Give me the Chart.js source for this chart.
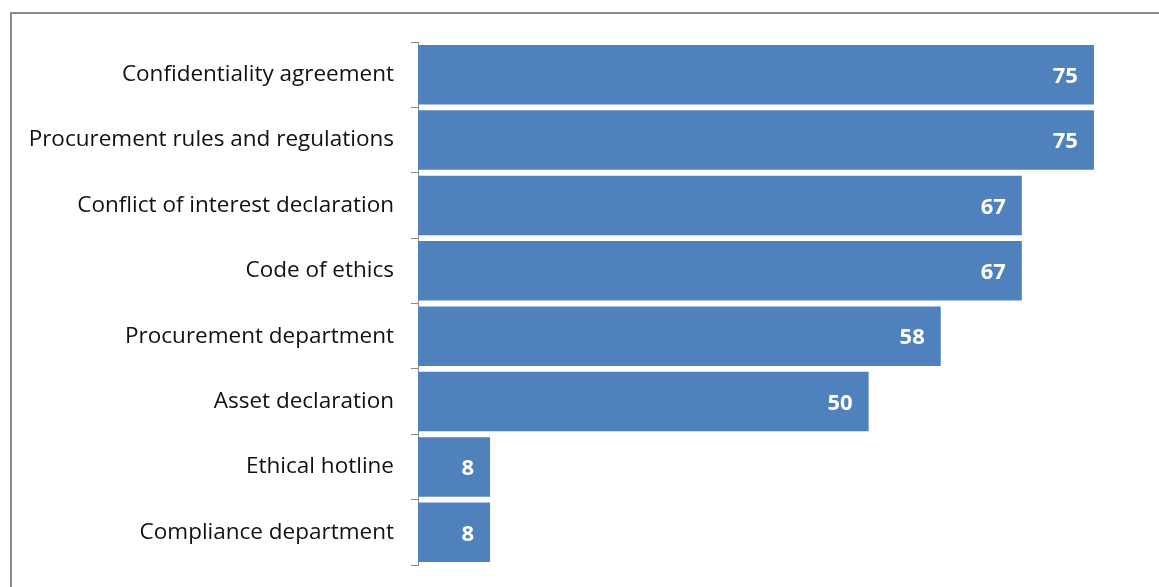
<!DOCTYPE html>
<html>
<head>
<meta charset="utf-8">
<script src="https://cdn.jsdelivr.net/npm/chart.js@4/dist/chart.umd.min.js"></script>
<style>
    html, body { margin: 0; padding: 0; background: #fff; overflow: hidden; }
    #frame {
        position: absolute; left: 10px; top: 12px; width: 1200px; height: 640px;
        border-left: 2px solid #8a8a8a; border-top: 2px solid #8a8a8a;
    }
    #wrap { position: absolute; left: 0; top: 0; width: 1159px; height: 587px; }
</style>
</head>
<body>
<div id="frame"></div>
<div id="wrap"><canvas id="barChart" width="1159" height="587"></canvas></div>
<script>
const categories = [
    'Confidentiality agreement',
    'Procurement rules and regulations',
    'Conflict of interest declaration',
    'Code of ethics',
    'Procurement department',
    'Asset declaration',
    'Ethical hotline',
    'Compliance department'
];
const values = [75, 75, 67, 67, 58, 50, 8, 8];
const axisMax = 80;

const FONT = '"Open Sans", Lato, sans-serif';

// prints each value inside the right end of its bar
const valueLabels = {
    id: 'valueLabels',
    afterDatasetsDraw(chart) {
        const ctx = chart.ctx;
        const meta = chart.getDatasetMeta(0);
        ctx.save();
        ctx.fillStyle = '#ffffff';
        ctx.font = 'bold 22px ' + FONT;
        ctx.textAlign = 'right';
        ctx.textBaseline = 'middle';
        meta.data.forEach((bar, i) => {
            ctx.fillText(String(values[i]), bar.x - 16, bar.y + 2);
        });
        ctx.restore();
    }
};

const ctx = document.getElementById('barChart').getContext('2d');
new Chart(ctx, {
    type: 'bar',
    data: {
        labels: categories,
        datasets: [{
            data: values,
            backgroundColor: '#4f81bd',
            borderWidth: 0,
            barPercentage: 0.91,
            categoryPercentage: 1.0
        }]
    },
    options: {
        indexAxis: 'y',
        responsive: false,
        animation: false,
        layout: { padding: { top: 42, right: 20, bottom: 22, left: 0 } },
        plugins: {
            legend: { display: false },
            tooltip: { enabled: false }
        },
        scales: {
            x: {
                display: false,
                min: 0,
                max: axisMax
            },
            y: {
                afterFit(scale) {
                    scale.width = 418;
                    // keep label overhang from eating into the plot height
                    scale.paddingTop = 0;
                    scale.paddingBottom = 0;
                },
                border: { display: true, color: '#8a8a8a', width: 1 },
                grid: {
                    offset: true,
                    drawOnChartArea: false,
                    drawTicks: true,
                    tickLength: 7,
                    tickColor: '#8a8a8a'
                },
                ticks: {
                    color: '#111111',
                    padding: 17,
                    font: { family: FONT, size: 22.5 }
                }
            }
        }
    },
    plugins: [valueLabels]
});
</script>
</body>
</html>
